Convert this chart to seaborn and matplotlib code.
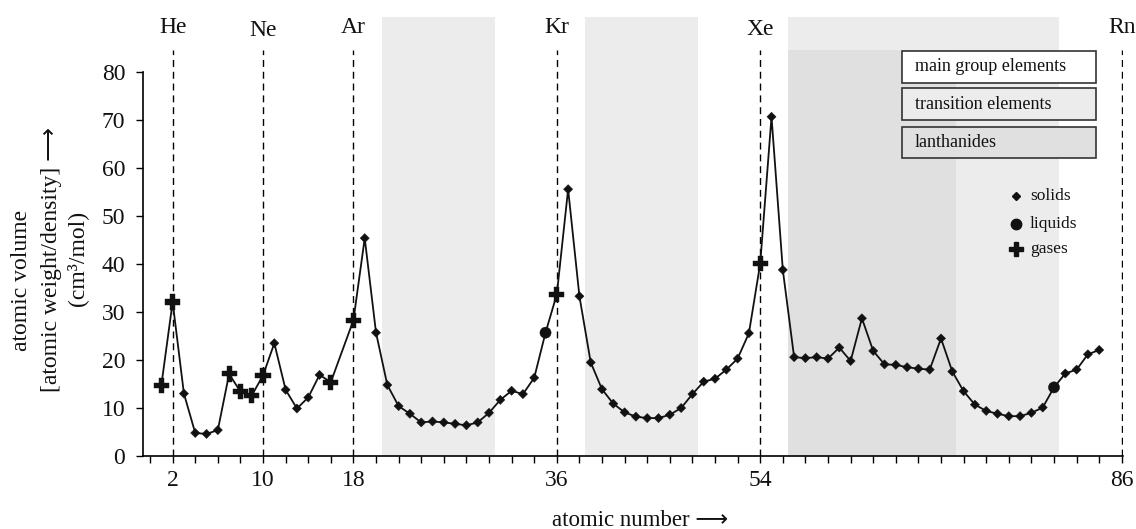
import matplotlib
matplotlib.use("Agg")
import matplotlib.pyplot as plt
from matplotlib.patches import Rectangle
import seaborn as sns
import pandas as pd

# ---------------- data ----------------
atomic_number = [1, 2, 3, 4, 5, 6, 7, 8, 9, 10, 11, 12, 13, 14, 15, 16,
                 18, 19, 20, 21, 22, 23, 24, 25, 26, 27, 28, 29, 30, 31, 32, 33, 34, 35, 36,
                 37, 38, 39, 40, 41, 42, 43, 44, 45, 46, 47, 48, 49, 50, 51, 52, 53, 54,
                 55, 56, 57, 58, 59, 60, 61, 62, 63, 64, 65, 66, 67, 68, 69, 70, 71,
                 72, 73, 74, 75, 76, 77, 78, 79, 80, 81, 82, 83, 84]
atomic_volume = [14.7, 32.1, 13.0, 4.8, 4.6, 5.4, 17.1, 13.4, 12.6, 16.8, 23.5, 13.8, 9.9, 12.2, 16.9, 15.4,
                 28.3, 45.4, 25.7, 14.8, 10.4, 8.8, 7.0, 7.2, 7.0, 6.7, 6.4, 7.0, 9.0, 11.7, 13.6, 12.9, 16.3, 25.7, 33.7,
                 55.6, 33.3, 19.5, 13.9, 10.9, 9.1, 8.2, 7.9, 7.9, 8.6, 10.0, 12.9, 15.5, 16.1, 18.0, 20.3, 25.6, 40.1,
                 70.7, 38.8, 20.6, 20.4, 20.6, 20.3, 22.6, 19.8, 28.7, 21.9, 19.1, 19.0, 18.5, 18.2, 18.0, 24.5, 17.6,
                 13.5, 10.7, 9.4, 8.8, 8.3, 8.3, 9.0, 10.1, 14.3, 17.2, 18.0, 21.2, 22.1]
gas_numbers = [1, 2, 7, 8, 9, 10, 16, 18, 36, 54]
liquid_numbers = [35, 80]

noble_numbers = [2, 10, 18, 36, 54, 86]
noble_labels = ["He", "Ne", "Ar", "Kr", "Xe", "Rn"]
noble_label_y = [88.1, 87.5, 88.1, 88.1, 87.7, 88.1]

labeled_ticks = [2, 10, 18, 36, 54, 86]
y_ticks = [0, 10, 20, 30, 40, 50, 60, 70, 80]

transition_spans = [(20.5, 30.5), (38.5, 48.5), (56.5, 80.4)]
lanthanide_span = (56.5, 71.35)

box_labels = ["main group elements", "transition elements", "lanthanides"]
state_labels = ["solids", "liquids", "gases"]

# ---------------- style ----------------
sns.set_theme(style="white")
plt.rcParams["font.family"] = ["Liberation Serif", "DejaVu Sans"]

LIGHT = "#ececec"
DARK = "#e0e0e0"
INK = "#111111"

states = ["gas" if z in gas_numbers else ("liquid" if z in liquid_numbers else "solid")
          for z in atomic_number]
df = pd.DataFrame({"Z": atomic_number, "V": atomic_volume, "state": states})

fig = plt.figure(figsize=(11.36, 5.29), dpi=100)
ax = fig.add_axes([0.1261, 0.1380, 0.8624, 0.8299])
ax.set_xlim(-0.6, 86.1)
ax.set_ylim(0, 91.5)

# shaded regions
for a, b in transition_spans:
    ax.axvspan(a, b, ymin=0, ymax=1, color=LIGHT, lw=0, zorder=0)
ax.axvspan(lanthanide_span[0], lanthanide_span[1], ymin=0, ymax=84.6 / 91.5,
           color=DARK, lw=0, zorder=0.5)

# noble gas dashed lines + labels
ax.vlines(noble_numbers, 0, 84.6, colors="black", linestyles=(0, (5, 3.5)), lw=1.0, zorder=1)
for z, lab, yy in zip(noble_numbers, noble_labels, noble_label_y):
    ax.text(z, yy, lab, ha="center", va="baseline", fontsize=17, color=INK, clip_on=False)

# curve and markers
sns.lineplot(data=df, x="Z", y="V", color=INK, lw=1.3, estimator=None, sort=True, ax=ax, zorder=2)
sns.scatterplot(data=df, x="Z", y="V", style="state", size="state",
                markers={"solid": "D", "liquid": "o", "gas": "P"},
                sizes={"solid": 22, "liquid": 65, "gas": 120},
                color=INK, edgecolor=INK, linewidth=0.3, legend=False, ax=ax, zorder=3)

# axes styling
for s in ["top", "right"]:
    ax.spines[s].set_visible(False)
for s in ["left", "bottom"]:
    ax.spines[s].set_color("black")
    ax.spines[s].set_linewidth(1.2)
ax.spines["left"].set_bounds(0, 80)

xt = list(range(0, 87, 2))
ax.set_xticks(xt)
ax.set_xticklabels([str(v) if v in labeled_ticks else "" for v in xt])
ax.set_yticks(y_ticks)
ax.set_yticklabels([str(v) for v in y_ticks])
ax.tick_params(axis="both", which="major", direction="out", length=5, width=1.0,
               colors="black", labelsize=17, labelcolor=INK)
ax.tick_params(axis="x", pad=5, bottom=True)
ax.tick_params(axis="y", pad=8, left=True)
ax.set_xlabel("")
ax.set_ylabel("")

# x label
fig.text(640 / 1136, 1 - 520 / 529, "atomic number ⟶", ha="center", va="center",
         fontsize=16.5, color=INK)
# y label (three rotated lines)
fig.text(22 / 1136, 1 - 280 / 529, "atomic volume", rotation=90, ha="center", va="center",
         fontsize=17, color=INK)
fig.text(52 / 1136, 1 - 259 / 529, "[atomic weight/density] ⟶", rotation=90, ha="center",
         va="center", fontsize=17, color=INK)
fig.text(77 / 1136, 1 - 258 / 529, "(cm³/mol)", rotation=90, ha="center", va="center",
         fontsize=17, color=INK)

# region legend boxes
box_bottoms = [0.8503, 0.7654, 0.6781]
box_colors = ["white", LIGHT, DARK]
for lab, b, c in zip(box_labels, box_bottoms, box_colors):
    ax.add_patch(Rectangle((0.7742, b), 0.1983, 0.0722, transform=ax.transAxes,
                           facecolor=c, edgecolor="#333333", lw=1.2, zorder=5, clip_on=False))
    ax.text(0.7877, b + 0.0361, lab, transform=ax.transAxes, ha="left", va="center",
            fontsize=13, color=INK, zorder=6)

# marker legend
mk_y = [0.5923, 0.5278, 0.4715]
mk_style = [("D", 4.5), ("o", 7.5), ("P", 10)]
for lab, yy, (m, ms) in zip(state_labels, mk_y, mk_style):
    ax.plot([0.8906], [yy], marker=m, ms=ms, color=INK, transform=ax.transAxes,
            ls="none", zorder=6, clip_on=False)
    ax.text(0.9051, yy, lab, transform=ax.transAxes, ha="left", va="center",
            fontsize=12.5, color=INK, zorder=6)

fig.savefig("out.png", dpi=100)
